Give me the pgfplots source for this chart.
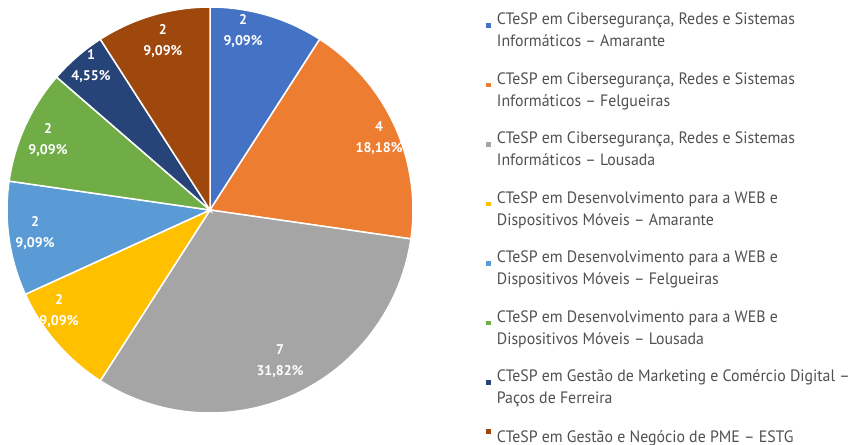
\documentclass[border=0pt]{standalone}
\usepackage{fontspec}
\setmainfont{PT Sans}
\newfontfamily\legfont[FakeStretch=0.96]{PT Sans}
\usepackage{pgfplots}
\usepackage{pgfplotstable}
\pgfplotsset{compat=1.18}

\definecolor{c0}{HTML}{4472C4}
\definecolor{c1}{HTML}{ED7D31}
\definecolor{c2}{HTML}{A5A5A5}
\definecolor{c3}{HTML}{FFC000}
\definecolor{c4}{HTML}{5B9BD5}
\definecolor{c5}{HTML}{70AD47}
\definecolor{c6}{HTML}{264478}
\definecolor{c7}{HTML}{9E480E}
\definecolor{txt}{HTML}{505050}

% number of students per course
\pgfplotstableread{
n
2
4
7
2
2
2
1
2
}\piedata

\begin{document}
\begin{tikzpicture}
\useasboundingbox (0,0) rectangle (851bp,445bp);
\begin{axis}[
  at={(210bp,235bp)}, anchor=center,
  scale only axis, width=406bp, height=406bp,
  xmin=-1, xmax=1, ymin=-1, ymax=1,
  hide axis, clip=false,
  legend style={at={(1.173,0.99)}, anchor=north west, draw=none, fill=none,
    font=\legfont\fontsize{16.5bp}{22bp}\selectfont, text=txt, row sep=24.2bp,
    column sep=6bp, nodes={align=left, inner sep=0pt}},
  legend cell align=left,
  legend image code/.code={\fill[#1,draw=none] (0bp,3bp) rectangle (4.5bp,7.5bp);},
]
\def\cum{0}
\pgfplotsforeachungrouped \i in {0,...,7}{
  \pgfplotstablegetelem{\i}{n}\of\piedata
  \let\n\pgfplotsretval
  \pgfmathsetmacro\start{90-360*\cum/22}
  \pgfmathsetmacro\stop{90-360*(\cum+\n)/22}
  \pgfmathsetmacro\cum{\cum+\n}
  \edef\cmd{\noexpand\addplot[fill=c\i, draw=white, line width=1.5bp,
    domain=\stop:\start, samples=60, variable=\noexpand\t]
    ({cos(\noexpand\t)},{sin(\noexpand\t)}) -- (axis cs:0,0) -- cycle;}
  \cmd
}
\legend{{CTeSP em Cibersegurança, Redes e Sistemas\\Informáticos – Amarante},
  {CTeSP em Cibersegurança, Redes e Sistemas\\Informáticos – Felgueiras},
  {CTeSP em Cibersegurança, Redes e Sistemas\\Informáticos – Lousada},
  {CTeSP em Desenvolvimento para a WEB e\\Dispositivos Móveis – Amarante},
  {CTeSP em Desenvolvimento para a WEB e\\Dispositivos Móveis – Felgueiras},
  {CTeSP em Desenvolvimento para a WEB e\\Dispositivos Móveis – Lousada},
  {CTeSP em Gestão de Marketing e Comércio Digital –\\Paços de Ferreira},
  {CTeSP em Gestão e Negócio de PME – ESTG}}

\begin{scope}[every node/.style={text=white, align=center, font=\bfseries\fontsize{14bp}{21bp}\selectfont}]
\node at (axis cs:0.163,0.882) {2\\9,09\%};
\node at (axis cs:0.833,0.355) {4\\18,18\%};
\node at (axis cs:0.345,-0.744) {7\\31,82\%};
\node at (axis cs:-0.744,-0.498) {2\\9,09\%};
\node at (axis cs:-0.862,-0.113) {2\\9,09\%};
\node at (axis cs:-0.798,0.345) {2\\9,09\%};
\node at (axis cs:-0.586,0.709) {1\\4,55\%};
\node at (axis cs:-0.232,0.833) {2\\9,09\%};
\end{scope}
\end{axis}
\end{tikzpicture}
\end{document}
